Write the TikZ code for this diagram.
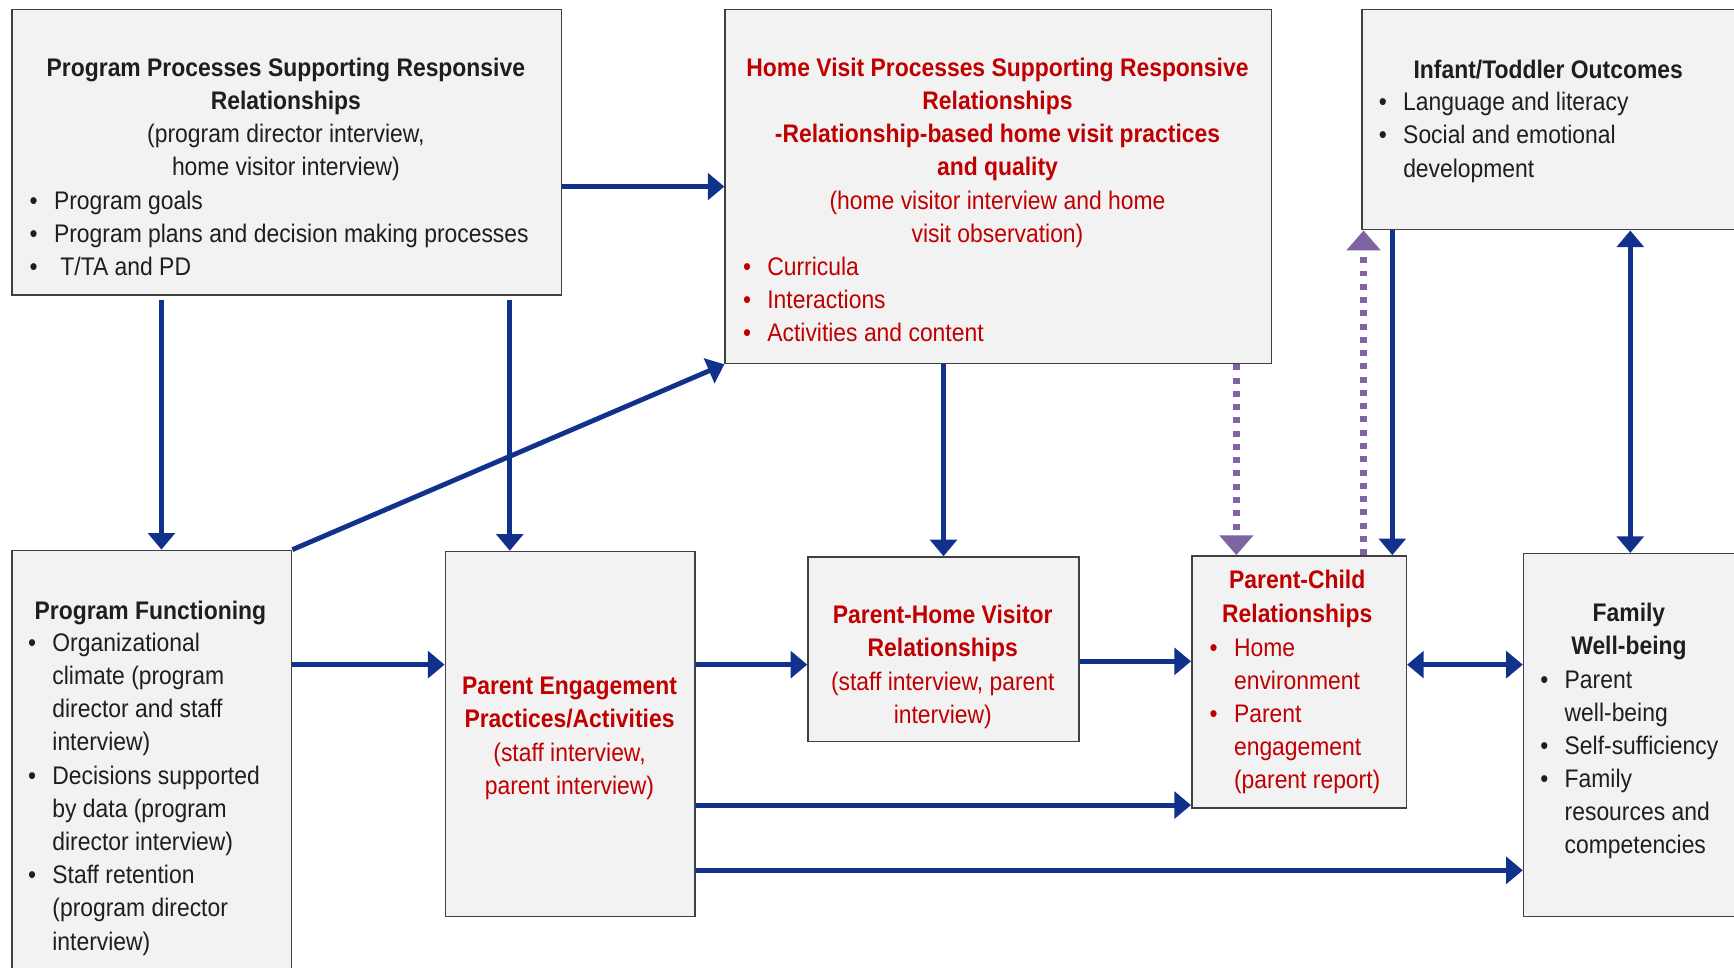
\documentclass[tikz,border=0pt]{standalone}
\usepackage{fontspec}
\setmainfont{Liberation Sans}[FakeStretch=0.9]
\usetikzlibrary{arrows.meta}

\definecolor{navy}{RGB}{16, 50, 140}
\definecolor{mpur}{RGB}{128, 100, 162}
\definecolor{dred}{RGB}{192, 0, 0}
\definecolor{bgray}{RGB}{242, 242, 242}
\definecolor{tgray}{RGB}{30, 30, 30}

\newcommand{\bul}{\makebox[11pt][l]{\textbullet}}
\newcommand{\ind}{\hspace*{11pt}}

\begin{document}
\begin{tikzpicture}[x=0.5pt, y=-0.5pt,
		box/.style={draw=black!75, fill=bgray, line width=0.7pt, anchor=north west, inner sep=0},
		txt/.style={inner sep=0, font=\fontsize{11.5}{15}\selectfont, text=tgray},
		ttl/.style={txt, anchor=north, align=center},
		lst/.style={txt, anchor=north west, align=left},
		>={Triangle[width=12pt, length=7.5pt]},
		arr/.style={color=navy, line width=2.2pt},
		fback/.style={color=mpur, line width=3pt, dash pattern=on 2.7pt off 3.3pt,
				>={Triangle[width=15pt, length=9pt]}}]
			\useasboundingbox (0,0) rectangle (1568,875);
			\clip (0,0) rectangle (1568,875);

			% --- Upper row ---
			\node[box, minimum width=248.5pt, minimum height=129pt] (procs) at (10,8) {};
			\node[box, minimum width=247pt, minimum height=160pt] (hvp) at (655,8) {};
			\node[box, minimum width=174.5pt, minimum height=99.5pt] (outc) at (1231,8) {};

			\node[ttl] (procs-t) at (258.5,52) {\textbf{Program Processes Supporting Responsive}\\ \textbf{Relationships}\\ (program director interview,\\ home visitor interview)};
			\node[lst] (procs-l) at (26.5,172) {\bul Program goals\\ \bul Program plans and decision making processes\\ \bul\ T/TA and PD};

			\node[ttl, text=dred] (hvp-t) at (902,52) {\textbf{Home Visit Processes Supporting Responsive}\\ \textbf{Relationships}\\ \textbf{-Relationship-based home visit practices}\\ \textbf{and quality}\\ (home visitor interview and home\\ visit observation)};
			\node[lst, text=dred] (hvp-l) at (671.5,232) {\bul Curricula\\ \bul Interactions\\ \bul Activities and content};

			\node[ttl] (outc-t) at (1400,54) {\textbf{Infant/Toddler Outcomes}};
			\node[lst] (outc-l) at (1246.5,83) {\bul Language and literacy\\ \bul Social and emotional\\ \ind development};

			% --- Lower row ---
			\node[box, minimum width=126.5pt, minimum height=196.5pt] (func) at (10,497) {};
			\node[box, minimum width=113pt, minimum height=165pt] (engage) at (402,498) {};
			\node[box, minimum width=122.5pt, minimum height=83.5pt] (phv) at (730,503) {};
			\node[box, minimum width=97pt, minimum height=114pt] (pcr) at (1077,502) {};
			\node[box, minimum width=96.5pt, minimum height=164pt] (fwb) at (1377,500) {};

			\node[ttl] (func-t) at (136,543) {\textbf{Program Functioning}};
			\node[lst] (func-l) at (25,572) {\bul Organizational\\ \ind climate (program\\ \ind director and staff\\ \ind interview)\\ \bul Decisions supported\\ \ind by data (program\\ \ind director interview)\\ \bul Staff retention\\ \ind (program director\\ \ind interview)};

			\node[ttl, text=dred] (engage-t) at (515,612) {\textbf{Parent Engagement}\\ \textbf{Practices/Activities}\\ (staff interview,\\ parent interview)};

			\node[ttl, text=dred] (phv-t) at (852.5,547) {\textbf{Parent-Home Visitor}\\ \textbf{Relationships}\\ (staff interview, parent\\ interview)};

			\node[ttl, text=dred] (pcr-t) at (1173,515.5) {\textbf{Parent-Child}\\ \textbf{Relationships}};
			\node[lst, text=dred] (pcr-l) at (1093.5,577) {\bul Home\\ \ind environment\\ \bul Parent\\ \ind engagement\\ \ind (parent report)};

			\node[ttl] (fwb-t) at (1473,544.5) {\textbf{Family}\\ \textbf{Well-being}};
			\node[lst] (fwb-l) at (1392.5,606) {\bul Parent\\ \ind well-being\\ \bul Self-sufficiency\\ \bul Family\\ \ind resources and\\ \ind competencies};

			% where the straight arrows run
			\coordinate (xa) at (146,0);
			\coordinate (xb) at (461,0);
			\coordinate (xd) at (1118,0);
			\coordinate (xe) at (1233,0);
			\coordinate (xf) at (1259,0);
			\coordinate (ya) at (0,601);
			\coordinate (yb) at (0,598);
			\coordinate (yc) at (0,728);
			\coordinate (yd) at (0,787);

			% --- Arrows ---
			\draw[arr, ->] (procs.east |- hvp.west) -- (hvp.west);
			\draw[arr, ->, shorten <=2pt] (procs.south -| xa) -- (func.north -| xa);
			\draw[arr, ->, shorten <=2pt] (procs.south -| xb) -- (engage.north -| xb);
			\draw[arr, ->] (func.north east) -- (hvp.south west);
			\draw[arr, ->] (hvp.south -| phv.north) -- (phv.north);

			\draw[arr, ->] (func.east |- ya) -- (engage.west |- ya);
			\draw[arr, ->] (engage.east |- ya) -- (phv.west |- ya);
			\draw[arr, ->] (phv.east |- yb) -- (pcr.west |- yb);
			\draw[arr, ->] (engage.east |- yc) -- (pcr.west |- yc);
			\draw[arr, ->] (engage.east |- yd) -- (fwb.west |- yd);
			\draw[arr, <->] (pcr.east |- ya) -- (fwb.west |- ya);

			\draw[arr, ->] (outc.south -| xf) -- (pcr.north -| xf);
			\draw[arr, <->] (outc.south -| fwb.north) -- (fwb.north);

			% dotted feedback
			\draw[fback, ->] (hvp.south -| xd) -- (pcr.north -| xd);
			\draw[fback, ->] (pcr.north -| xe) -- (outc.south -| xe);

		\end{tikzpicture}
\end{document}
